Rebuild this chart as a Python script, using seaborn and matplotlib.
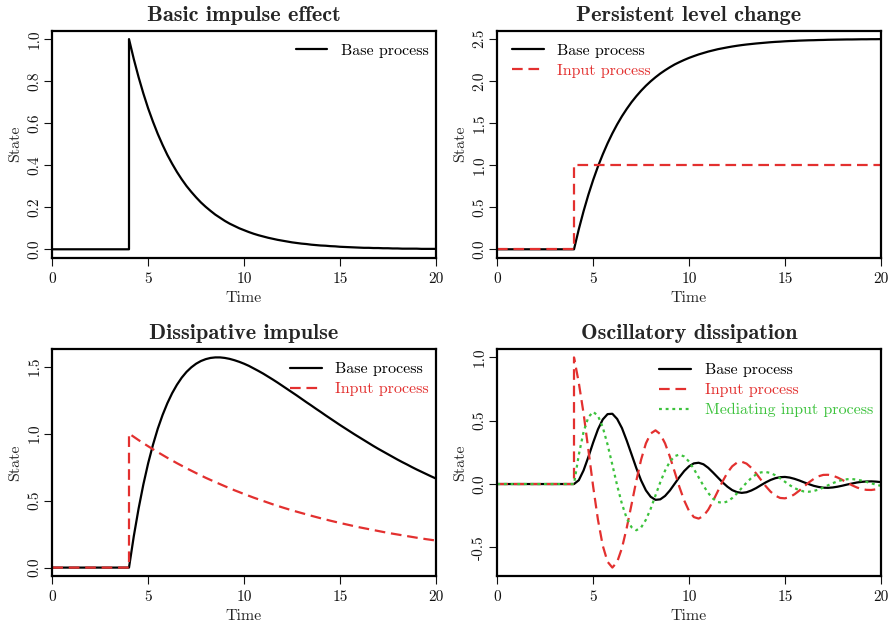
import numpy as np
import pandas as pd
import matplotlib
matplotlib.use("Agg")
import matplotlib.pyplot as plt
import seaborn as sns

# ---------------- data ----------------
time_half = np.linspace(4, 20, 33).tolist()      # 4.0, 4.5, ..., 20.0
time_quarter = np.linspace(4, 20, 65).tolist()   # 4.00, 4.25, ..., 20.0

impulse_base = [1.000, 0.905, 0.819, 0.741, 0.670, 0.607, 0.549, 0.497, 0.449,
                0.407, 0.368, 0.333, 0.301, 0.273, 0.247, 0.223, 0.202, 0.183,
                0.165, 0.150, 0.135, 0.122, 0.111, 0.100, 0.091, 0.082, 0.074,
                0.067, 0.061, 0.055, 0.050, 0.045, 0.041, 0.037, 0.033, 0.030,
                0.027, 0.025, 0.022, 0.020, 0.018, 0.017, 0.015, 0.014, 0.012,
                0.011, 0.010, 0.009, 0.008, 0.007, 0.007, 0.006, 0.006, 0.005,
                0.005, 0.004, 0.004, 0.003, 0.003, 0.003, 0.003, 0.002, 0.002,
                0.002, 0.002]

level_base = [0.000, 0.238, 0.453, 0.648, 0.824, 0.984, 1.127, 1.258, 1.376,
              1.483, 1.580, 1.667, 1.747, 1.818, 1.883, 1.942, 1.995, 2.043,
              2.087, 2.126, 2.162, 2.195, 2.223, 2.249, 2.273, 2.294, 2.314,
              2.331, 2.348, 2.362, 2.376, 2.387, 2.398, 2.408, 2.417, 2.425,
              2.432, 2.438, 2.444, 2.449, 2.454, 2.459, 2.463, 2.466, 2.470,
              2.473, 2.475, 2.478, 2.480, 2.482, 2.483, 2.485, 2.486, 2.488,
              2.489, 2.490, 2.491, 2.492, 2.492, 2.493, 2.494, 2.494, 2.495,
              2.495, 2.496]
level_input_time = [4.0, 20.0]
level_input = [1.0, 1.0]

dissip_base = [0.000, 0.234, 0.440, 0.621, 0.779, 0.916, 1.036, 1.138, 1.226,
               1.301, 1.364, 1.417, 1.460, 1.494, 1.521, 1.541, 1.555, 1.564,
               1.568, 1.568, 1.564, 1.557, 1.547, 1.535, 1.521, 1.505, 1.486,
               1.467, 1.447, 1.425, 1.403, 1.380, 1.356, 1.332, 1.308, 1.284,
               1.259, 1.234, 1.210, 1.185, 1.161, 1.136, 1.112, 1.088, 1.064,
               1.041, 1.018, 0.995, 0.973, 0.951, 0.929, 0.907, 0.886, 0.866,
               0.846, 0.826, 0.806, 0.787, 0.769, 0.750, 0.732, 0.715, 0.698,
               0.681, 0.665]
dissip_input = [1.000, 0.951, 0.905, 0.861, 0.819, 0.779, 0.741, 0.705, 0.670,
                0.638, 0.607, 0.577, 0.549, 0.522, 0.497, 0.472, 0.449, 0.427,
                0.407, 0.387, 0.368, 0.350, 0.333, 0.317, 0.301, 0.287, 0.273,
                0.259, 0.247, 0.235, 0.223, 0.212, 0.202]

osc_base = [0.000, 0.030, 0.108, 0.214, 0.328, 0.432, 0.510, 0.552, 0.555,
            0.514, 0.442, 0.343, 0.235, 0.126, 0.028, -0.050, -0.101, -0.125,
            -0.121, -0.094, -0.051, 0.002, 0.055, 0.103, 0.140, 0.163, 0.168,
            0.156, 0.128, 0.091, 0.052, 0.013, -0.021, -0.048, -0.064, -0.070,
            -0.065, -0.051, -0.032, -0.009, 0.013, 0.032, 0.046, 0.054, 0.056,
            0.051, 0.041, 0.028, 0.013, -0.001, -0.014, -0.023, -0.029, -0.030,
            -0.027, -0.021, -0.013, -0.004, 0.004, 0.012, 0.017, 0.020, 0.021,
            0.019, 0.015]
osc_input = [1.000, 0.800, 0.557, 0.270, -0.021, -0.283, -0.487, -0.614, -0.660,
             -0.616, -0.506, -0.346, -0.162, 0.026, 0.193, 0.321, 0.399, 0.424,
             0.394, 0.321, 0.216, 0.096, -0.025, -0.131, -0.213, -0.261, -0.273,
             -0.252, -0.203, -0.134, -0.057, 0.021, 0.089, 0.140, 0.169, 0.176,
             0.161, 0.128, 0.083, 0.033, -0.017, -0.060, -0.092, -0.110, -0.113,
             -0.103, -0.081, -0.052, -0.019, 0.013, 0.040, 0.061, 0.072, 0.073,
             0.066, 0.051, 0.032, 0.011, -0.010, -0.027, -0.040, -0.046, -0.047,
             -0.042, -0.032]
osc_mediating = [0.000, 0.231, 0.413, 0.528, 0.570, 0.539, 0.448, 0.312, 0.152,
                 -0.011, -0.157, -0.271, -0.341, -0.365, -0.343, -0.282, -0.195,
                 -0.090, 0.014, 0.106, 0.177, 0.220, 0.233, 0.217, 0.177, 0.119,
                 0.053, -0.013, -0.071, -0.116, -0.142, -0.149, -0.138, -0.111,
                 -0.074, -0.031, 0.011, 0.048, 0.076, 0.092, 0.095, 0.087, 0.069,
                 0.045, 0.018, -0.009, -0.032, -0.049, -0.059, -0.061, -0.055,
                 -0.044, -0.028, -0.010, 0.007, 0.022, 0.032, 0.038, 0.039, 0.035,
                 0.027, 0.017, 0.006, -0.005, -0.014]

titles = ["Basic impulse effect", "Persistent level change",
          "Dissipative impulse", "Oscillatory dissipation"]
label_base = "Base process"
label_input = "Input process"
label_mediating = "Mediating input process"
x_ticks = [0, 5, 10, 15, 20]
y_ticks = [[0.0, 0.2, 0.4, 0.6, 0.8, 1.0],
           [0.0, 0.5, 1.0, 1.5, 2.0, 2.5],
           [0.0, 0.5, 1.0, 1.5],
           [-0.5, 0.0, 0.5, 1.0]]
onset = 4.0

# ---------------- styling ----------------
sns.set_style("ticks")
plt.rcParams["font.family"] = ["cmr10", "DejaVu Serif"]
plt.rcParams["axes.formatter.use_mathtext"] = True
plt.rcParams["axes.unicode_minus"] = False

BLACK = "#000000"
RED = "#E3302F"
GREEN = "#3CC23C"
LW = 1.6
DASHED = (0, (4.8, 2.6))
DOTTED = (0, (1.3, 1.7))


def with_lead(t, v):
    """Prepend the flat pre-onset segment (state 0 from time 0 to onset)."""
    if v[0] != 0:
        return [0.0, onset] + list(t), [0.0, 0.0] + list(v)
    return [0.0] + list(t), [0.0] + list(v)


def draw(ax, t, v, color, ls, label):
    x, y = with_lead(t, v)
    df = pd.DataFrame({"Time": x, "State": y})
    sns.lineplot(data=df, x="Time", y="State", ax=ax, estimator=None,
                 sort=False, color=color, linewidth=LW, linestyle=ls,
                 label=label, legend=False)


fig = plt.figure(figsize=(8.91, 6.23), dpi=100)
W, H = 891.0, 623.0
boxes = [(52.3, 30.7), (497.3, 30.7), (52.3, 349.0), (497.3, 349.0)]
bw, bh = 383.5, 227.0
axes = [fig.add_axes([l / W, 1 - (t + bh) / H, bw / W, bh / H]) for l, t in boxes]

# panel 1
draw(axes[0], time_quarter, impulse_base, BLACK, "-", label_base)
# panel 2
draw(axes[1], time_quarter, level_base, BLACK, "-", label_base)
draw(axes[1], level_input_time, level_input, RED, DASHED, label_input)
# panel 3
draw(axes[2], time_quarter, dissip_base, BLACK, "-", label_base)
draw(axes[2], time_half, dissip_input, RED, DASHED, label_input)
# panel 4
draw(axes[3], time_quarter, osc_base, BLACK, "-", label_base)
draw(axes[3], time_quarter, osc_input, RED, DASHED, label_input)
draw(axes[3], time_quarter, osc_mediating, GREEN, DOTTED, label_mediating)

series_ranges = [
    (impulse_base + [0.0]),
    (level_base + level_input + [0.0]),
    (dissip_base + dissip_input + [0.0]),
    (osc_base + osc_input + osc_mediating),
]

legend_locs = ["upper right", "upper left", "upper right", "upper right"]
legend_anchor = [(1 - 7 / bw, 1 - 13 / bh), (14.4 / bw, 1 - 13 / bh),
                 (1 - 7 / bw, 1 - 13 / bh), (1 - 8 / bw, 1 - 14 / bh)]

for i, ax in enumerate(axes):
    vals = series_ranges[i]
    lo, hi = min(vals), max(vals)
    pad = 0.04 * (hi - lo)
    ax.set_ylim(lo - pad, hi + pad)
    ax.set_xlim(0, 20)
    ax.set_xticks(x_ticks, labels=[str(x) for x in x_ticks])
    ax.set_yticks(y_ticks[i], labels=[f"{y:.1f}" for y in y_ticks[i]],
                  rotation=90, va="center")
    ax.tick_params(direction="out", length=6, width=0.8,
                   labelsize=11, colors="#111111")
    ax.tick_params(axis="x", pad=4.4)
    ax.tick_params(axis="y", pad=2)
    for sp in ax.spines.values():
        sp.set_visible(True)
        sp.set_linewidth(1.6)
        sp.set_color("black")
    ax.set_xlabel("Time", fontsize=11.5, labelpad=4)
    ax.set_ylabel("State", fontsize=11.5, labelpad=3.5)
    ax.set_title(titles[i], fontsize=16, family="cmb10", pad=7)
    leg = ax.legend(loc=legend_locs[i], bbox_to_anchor=legend_anchor[i],
                    frameon=False, fontsize=11.5, handlelength=2.0,
                    handletextpad=0.85, labelspacing=0.37, borderpad=0,
                    borderaxespad=0, labelcolor="linecolor")

fig.savefig("out.png", dpi=100)
